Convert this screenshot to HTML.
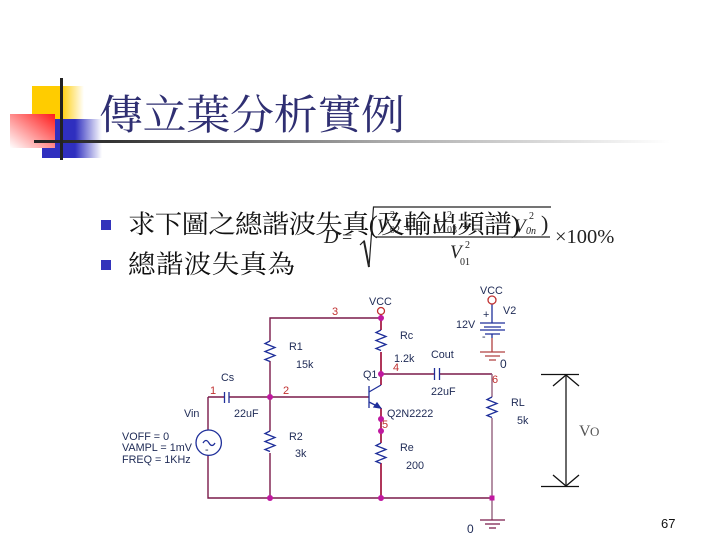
<!DOCTYPE html>
<html><head><meta charset="utf-8">
<style>
html,body{margin:0;padding:0;background:#fff}
svg{display:block}
.cjk{font-family:"Liberation Serif","Noto Serif CJK SC","Noto Sans CJK TC",serif}
.s{font-family:"Liberation Sans",sans-serif;font-size:10.8px;fill:#1e2a55}
.n{font-family:"Liberation Sans",sans-serif;font-size:11px;fill:#c03030}
.m{font-family:"Liberation Serif",serif;fill:#222}
</style></head><body>
<svg width="720" height="540" viewBox="0 0 720 540" xmlns="http://www.w3.org/2000/svg">
<defs>
<linearGradient id="y" x1="0" x2="1" y1="0" y2="0"><stop offset="0" stop-color="#ffcc00"/><stop offset=".55" stop-color="#ffcc00"/><stop offset="1" stop-color="#fff"/></linearGradient>
<linearGradient id="b" x1="0" x2="1" y1="0" y2="0"><stop offset="0" stop-color="#2f2fbf"/><stop offset=".55" stop-color="#2f2fbf"/><stop offset="1" stop-color="#fff"/></linearGradient>
<linearGradient id="r" x1="1" x2="0" y1="0" y2="1"><stop offset="0" stop-color="#ff1a1a"/><stop offset="1" stop-color="#fff"/></linearGradient>
<linearGradient id="l" x1="0" x2="1" y1="0" y2="0"><stop offset="0" stop-color="#222"/><stop offset=".12" stop-color="#333"/><stop offset=".55" stop-color="#aaa"/><stop offset="1" stop-color="#fff"/></linearGradient>
</defs>

<rect x="32" y="86" width="52" height="34" fill="url(#y)"/>
<rect x="42" y="119" width="60" height="39" fill="url(#b)"/>
<rect x="10" y="114" width="45" height="34" fill="url(#r)"/>
<rect x="34" y="140" width="636" height="3" fill="url(#l)"/>
<rect x="60" y="78" width="3" height="82" fill="#222"/>

<text class="cjk" transform="translate(99,129) scale(1,.93)" font-size="44" fill="#2f2f72" textLength="306">傳立葉分析實例</text>

<rect x="101" y="220" width="10" height="10" fill="#3333bb"/>
<rect x="101" y="260" width="10" height="10" fill="#3333bb"/>
<text class="cjk" transform="translate(128,233) scale(1,.93)" font-size="27.5" fill="#111" textLength="392">求下圖之總諧波失真(及輸出頻譜)</text>
<text class="cjk" transform="translate(128,273) scale(1,.93)" font-size="27.5" fill="#111" textLength="167">總諧波失真為</text>

<!-- formula -->
<text class="m" x="324" y="243" font-size="20" font-style="italic">D</text>
<text class="m" x="342" y="243" font-size="18">=</text>
<path d="M360 245L364 241L369 267L373.500 207H551" fill="none" stroke="#222" stroke-width="1.2"/>
<path d="M364 241L369 267" fill="none" stroke="#222" stroke-width="2"/>
<line x1="375" y1="237" x2="550" y2="237" stroke="#222" stroke-width="1.2"/>
<text class="m" x="377" y="232" font-size="19" font-style="italic">V</text>
<text class="m" x="390" y="233" font-size="10">02</text>
<text class="m" x="390" y="218" font-size="10">2</text>
<text class="m" x="403" y="232" font-size="17">+</text>
<text class="m" x="434" y="232" font-size="19" font-style="italic">V</text>
<text class="m" x="447" y="233" font-size="10">03</text>
<text class="m" x="447" y="218" font-size="10">2</text>
<text class="m" x="462" y="232" font-size="17">+</text>
<text class="m" x="514" y="232" font-size="19" font-style="italic">V</text>
<text class="m" x="526" y="234" font-size="10" font-style="italic">0n</text>
<text class="m" x="529" y="219" font-size="10">2</text>
<text class="m" x="541" y="231" font-size="22">)</text>
<text class="m" x="450" y="258" font-size="19" font-style="italic">V</text>
<text class="m" x="460" y="265" font-size="10">01</text>
<text class="m" x="465" y="248" font-size="10">2</text>
<text class="m" x="555" y="243" font-size="20.500">×100%</text>

<!-- wires -->
<g fill="none" stroke="#7a1a4a" stroke-width="1.4">
<path d="M270 341V318H381"/>
<path d="M270 361V431M270 453V498"/>
<path d="M208 397H224M229 397H369"/>
<path d="M208 397V430M208 455V498H492"/>
<path d="M381 374H434M439 374H492"/>
</g>
<g fill="none" stroke="#a82048" stroke-width="1.8">
<path d="M381 314.500V330M381 352V385M381 408V443M381 463V498"/>
</g>
<g fill="none" stroke="#95607e" stroke-width="1.4">
<path d="M492 374V397M492 418V520"/>
</g>
<!-- blue -->
<g fill="none" stroke="#1f2f9a" stroke-width="1.3">
<path d="M270 341l-5 2.500 10 4-10 4 10 4-10 4 5 2"/>
<path d="M270 431l-5 2.500 10 4-10 4 10 4-10 4 5 2"/>
<path d="M381 330l-5 2.500 10 4-10 4 10 4-10 4 5 2"/>
<path d="M381 443l-5 2.500 10 4-10 4 10 4-10 4 5 2"/>
<path d="M492 397l-5 2.500 10 4-10 4 10 4-10 4 5 2"/>
<path d="M224.500 392v11M229 392v11"/>
<path d="M434.500 368v12M439.500 368v12"/>
<circle cx="208.700" cy="442.700" r="12.700"/>
<path d="M203 443q3-5 6 0t6 0"/>
<path d="M369 386v22M369 392l12-7M369 402l12 6"/>
<path d="M374 407l6.500 1-3.500-5z" fill="#1f2f9a"/>
<path d="M480 323h25M484 327h17M480 330h25M485 334h15"/>
<path d="M492 304v19M492 334v4"/>
</g>
<!-- grounds -->
<g fill="none" stroke="#b04040" stroke-width="1.3">
<path d="M492 338v14M480 352h25M485 356h15M489 360h7"/>
</g>
<g fill="none" stroke="#7a1a4a" stroke-width="1.3">
<path d="M480 520h25M485 524h15M489 528h7"/>
</g>
<circle cx="381" cy="311" r="3.500" fill="none" stroke="#c03030" stroke-width="1.300"/>
<circle cx="492" cy="300" r="4" fill="none" stroke="#c03030" stroke-width="1.300"/>
<!-- nodes -->
<g fill="#c018a0">
<circle cx="270" cy="397" r="3"/><circle cx="270" cy="498" r="3"/>
<circle cx="381" cy="318" r="3"/><circle cx="381" cy="374" r="3"/>
<circle cx="381" cy="419" r="3"/><circle cx="381" cy="431" r="3"/>
<circle cx="381" cy="498" r="3"/><rect x="489.500" y="495.500" width="5" height="5"/>
</g>
<!-- labels -->
<text class="n" x="332" y="315">3</text>
<text class="n" x="210" y="394">1</text>
<text class="n" x="283" y="394">2</text>
<text class="n" x="393" y="371">4</text>
<text class="n" x="382" y="428">5</text>
<text class="n" x="492" y="383">6</text>
<text class="s" x="369" y="305">VCC</text>
<text class="s" x="480" y="294">VCC</text>
<text class="s" x="503" y="314">V2</text>
<text class="s" x="456" y="328">12V</text>
<text class="s" x="483" y="318" font-size="8">+</text>
<text class="s" x="482" y="340">-</text>
<text class="s" x="500" y="368" style="font-size:12px">0</text>
<text class="s" x="400" y="339">Rc</text>
<text class="s" x="394" y="362">1.2k</text>
<text class="s" x="431" y="358">Cout</text>
<text class="s" x="431" y="395">22uF</text>
<text class="s" x="363" y="378">Q1</text>
<text class="s" x="387" y="417">Q2N2222</text>
<text class="s" x="400" y="451">Re</text>
<text class="s" x="406" y="469">200</text>
<text class="s" x="289" y="350">R1</text>
<text class="s" x="296" y="368">15k</text>
<text class="s" x="289" y="440">R2</text>
<text class="s" x="295" y="457">3k</text>
<text class="s" x="221" y="381">Cs</text>
<text class="s" x="184" y="417">Vin</text>
<text class="s" x="234" y="417">22uF</text>
<text class="s" x="122" y="440">VOFF = 0</text>
<text class="s" x="122" y="451">VAMPL = 1mV</text>
<text class="s" x="122" y="463">FREQ = 1KHz</text>
<text class="s" x="511" y="406">RL</text>
<text class="s" x="517" y="424">5k</text>
<text class="s" x="467" y="533" style="font-size:12px">0</text>
<text class="s" x="205" y="453">-</text>
<!-- Vo arrow -->
<g fill="none" stroke="#111" stroke-width="1.3">
<path d="M541 374.500h38M541 486.500h38"/>
<path d="M566 375v111" stroke="#444" stroke-width="1.600"/>
<path d="M553 386l13-11 13 11M553 475l13 11 13-11"/>
</g>
<text class="m" x="579" y="436" font-size="16" style="fill:#555">V</text>
<text class="m" x="590" y="436" font-size="13" style="fill:#555">O</text>
<text x="661" y="528" font-family="Liberation Sans,sans-serif" font-size="13" fill="#111">67</text>
</svg>
</body></html>
